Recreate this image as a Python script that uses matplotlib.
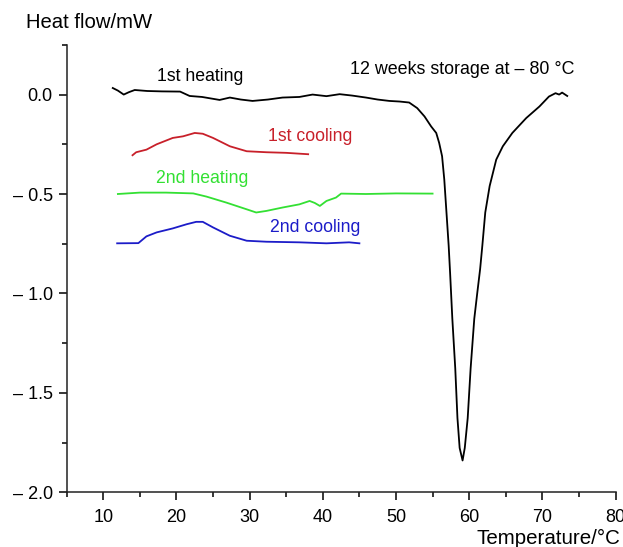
import matplotlib
matplotlib.use("Agg")
import matplotlib.pyplot as plt
from matplotlib.ticker import MultipleLocator

plt.rcParams['font.family'] = ['Liberation Sans', 'DejaVu Sans']

# --- data ---
heat1_x = [11.3, 12.0, 12.8, 13.5, 14.3, 16.0, 18.0, 20.5, 21.8, 23.5, 25.9, 27.3, 28.8,
           30.4, 32.5, 34.5, 36.8, 38.6, 40.5, 42.3, 44.0, 45.9, 47.5, 49.1, 50.5, 51.8,
           52.9, 53.9, 54.8, 55.5, 55.9, 56.3, 56.6, 56.9, 57.2, 57.4, 57.7, 58.1, 58.4,
           58.7, 59.1, 59.4, 59.8, 60.2, 60.7, 61.1, 61.5, 61.8, 62.2, 62.8, 63.7, 64.6,
           65.9, 67.8, 69.6, 70.9, 71.8, 72.3, 72.7, 73.4]
heat1_y = [0.033, 0.02, 0.0, 0.012, 0.023, 0.018, 0.016, 0.015, -0.007, -0.012, -0.027, -0.015, -0.025,
           -0.032, -0.025, -0.015, -0.012, 0.0, -0.008, 0.002, -0.005, -0.015, -0.025, -0.032, -0.035, -0.04,
           -0.068, -0.11, -0.16, -0.193, -0.243, -0.31, -0.427, -0.593, -0.76, -0.9, -1.127, -1.377, -1.627,
           -1.777, -1.84, -1.777, -1.627, -1.377, -1.127, -1.0, -0.877, -0.76, -0.593, -0.46, -0.327, -0.26,
           -0.193, -0.118, -0.06, -0.01, 0.007, 0.0, 0.01, -0.007]

cool1_x = [14.0, 14.5, 15.9, 17.3, 19.5, 20.9, 22.5, 23.6, 25.0, 27.3, 29.6, 32.3, 35.0, 38.0]
cool1_y = [-0.305, -0.29, -0.277, -0.25, -0.218, -0.21, -0.193, -0.197, -0.218, -0.26, -0.285,
           -0.29, -0.293, -0.30]

heat2_x = [12.0, 15.0, 18.6, 22.3, 24.1, 26.8, 29.6, 30.9, 32.3, 34.5, 36.8, 38.2, 38.9,
           39.6, 40.5, 41.8, 42.5, 45.9, 50.0, 55.0]
heat2_y = [-0.50, -0.493, -0.493, -0.497, -0.513, -0.543, -0.577, -0.593, -0.585, -0.568, -0.552,
           -0.535, -0.545, -0.56, -0.535, -0.518, -0.498, -0.50, -0.497, -0.498]

cool2_x = [11.9, 14.8, 15.9, 17.3, 19.5, 21.4, 22.7, 23.6, 25.0, 27.3, 29.6, 32.3, 36.8,
           40.5, 43.6, 45.0]
cool2_y = [-0.748, -0.747, -0.713, -0.693, -0.673, -0.652, -0.64, -0.64, -0.668, -0.71, -0.735,
           -0.74, -0.743, -0.748, -0.743, -0.748]

x_ticks = [10, 20, 30, 40, 50, 60, 70, 80]
y_ticks = [0.0, -0.5, -1.0, -1.5, -2.0]
y_tick_labels = ["0.0", "\u2013 0.5", "\u2013 1.0", "\u2013 1.5", "\u2013 2.0"]

RED = "#c8202a"
GREEN = "#33e033"
BLUE = "#1c1cc8"

fig = plt.figure(figsize=(6.23, 5.47), dpi=100)
ax = fig.add_axes([0.107, 0.100, 0.881, 0.818])

ax.plot(heat1_x, heat1_y, color="black", lw=1.3)
ax.plot(cool1_x, cool1_y, color=RED, lw=1.3)
ax.plot(heat2_x, heat2_y, color=GREEN, lw=1.3)
ax.plot(cool2_x, cool2_y, color=BLUE, lw=1.3)

ax.set_xlim(5, 80)
ax.set_ylim(-2.0, 0.25)

ax.set_xticks(x_ticks)
ax.set_yticks(y_ticks)
ax.set_yticklabels(y_tick_labels)
ax.xaxis.set_minor_locator(MultipleLocator(5))
ax.yaxis.set_minor_locator(MultipleLocator(0.25))
ax.tick_params(which="major", direction="out", length=6, width=1.1, labelsize=13, pad=4)
ax.tick_params(which="minor", direction="out", length=3.5, width=1.1)
ax.tick_params(axis="x", which="major", pad=6)

for s in ["top", "right"]:
    ax.spines[s].set_visible(False)
for s in ["left", "bottom"]:
    ax.spines[s].set_linewidth(1.1)
    ax.spines[s].set_color("#222222")

# annotations
ax.text(23.2, 0.09, "1st heating", ha="center", va="center", fontsize=12.7, color="black")
ax.text(59.1, 0.127, "12 weeks storage at \u2013 80 \u00b0C", ha="center", va="center",
        fontsize=12.9, color="black")
ax.text(38.3, -0.21, "1st cooling", ha="center", va="center", fontsize=12.7, color=RED)
ax.text(23.5, -0.42, "2nd heating", ha="center", va="center", fontsize=12.7, color=GREEN)
ax.text(39.0, -0.668, "2nd cooling", ha="center", va="center", fontsize=12.7, color=BLUE)

fig.text(26 / 623, 1 - 23 / 547, "Heat flow/mW", ha="left", va="center", fontsize=14.6)
fig.text(620 / 623, 1 - 538 / 547, "Temperature/\u00b0C", ha="right", va="center", fontsize=14.8)

fig.savefig("out.png", dpi=100)
